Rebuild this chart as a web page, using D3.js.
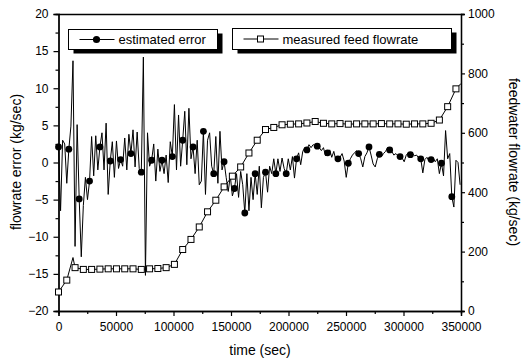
<!DOCTYPE html>
<html><head><meta charset="utf-8">
<script src="https://cdn.jsdelivr.net/npm/d3@7"></script>
<style>
body{margin:0;background:#fff;}
svg{display:block;font-family:"Liberation Sans",Arial,sans-serif;}
</style></head>
<body><svg id="c" width="522" height="362"></svg>
<script>
// estimated error, sampled every 1800 s starting at 0
const errStep = 1800;
const errorValues = [
 2.1,-6.5,3.0,2.5,-2.8,
 1.8,4.9,13.7,-11.3,5.1,
 -4.9,-12.7,-5.8,-2.0,-5.0,
 -2.5,3.5,-1.8,3.6,-1.0,
 2.1,4.0,-1.0,5.3,-4.3,
 0.2,2.8,-2.0,2.9,-0.8,
 0.4,-0.5,3.3,-1.0,3.8,
 1.2,4.4,-0.6,4.1,-0.8,
 -1.3,14.2,-15.2,4.0,-0.5,
 0.3,2.5,-2.5,1.8,-1.2,
 0.3,-1.5,1.0,-2.7,2.8,
 0.8,7.8,-1.0,6.4,-0.5,
 3.0,6.9,-0.3,7.3,0.5,
 2.1,-1.5,3.0,-3.0,-2.5,
 4.2,-4.3,3.0,4.0,-0.5,
 -1.5,3.5,-2.8,4.2,-1.0,
 0.1,-2.0,-3.9,-1.8,-4.5,
 -3.5,-1.5,-4.7,-1.2,-3.0,
 -6.8,-1.5,-6.5,-2.0,-5.0,
 -1.5,-4.3,-0.5,-6.1,-2.0,
 -1.3,-4.0,-0.5,-1.5,0.5,
 -1.5,0.5,-1.2,0.6,-0.8,
 -1.5,0.5,-1.0,0.8,-2.1,
 0.5,1.3,-0.3,1.5,2.0,
 1.7,2.4,2.0,2.4,2.3,
 2.2,2.0,1.6,2.0,0.9,
 1.3,1.7,0.7,1.5,0.3,
 0.5,0.7,1.2,0.2,-2.0,
 -0.1,0.5,1.0,1.3,1.6,
 1.2,0.5,-0.6,0.8,1.3,
 2.1,1.0,-0.2,-0.6,0.5,
 1.1,0.8,1.2,1.5,2.0,
 1.7,1.5,1.0,1.2,0.9,
 0.8,0.6,0.1,1.0,1.3,
 1.05,1.2,0.9,1.0,0.6,
 0.5,-1.4,0.4,0.7,0.2,
 0.4,0.6,0.1,0.5,-1.5,
 -0.1,-1.8,4.3,0.5,1.2,
 -4.6,-6.0,0.3,0.0,-3.0
];
const errMarkerEvery = 5;

// measured feed flowrate (kg/sec)
const flowTime = [0,7200,12600,14400,21600,28800,36000,43200,50400,57600,64800,72000,79200,86400,93600,100800,
 108000,115200,122400,129600,136800,144000,151200,158400,165600,172800,180000,187200,194400,201600,208800,
 216000,223200,230400,237600,244800,252000,259200,266400,273600,280800,288000,295200,302400,309600,316800,
 324000,331200,338400,345600,350000];
const flowRate = [64,104,180,146,140,140,141,142,142,142,142,140,142,143,146,157,
 207,241,283,334,373,418,454,485,532,575,611,618,627,629,630,
 633,638,632,630,631,629,630,630,630,631,630,630,629,630,630,
 632,643,688,748,766];
const flowMarkerStep = 7200;

const xTicks = [0,50000,100000,150000,200000,250000,300000,350000];
const yLeftTicks = [-20,-15,-10,-5,0,5,10,15,20];
const yRightTicks = [0,200,400,600,800,1000];

const legendLabels = ["estimated error","measured feed flowrate"];

const svg = d3.select("#c");
const x = d3.scaleLinear().domain([0,350000]).range([58.5,461]);
const yL = d3.scaleLinear().domain([-20,20]).range([311,14]);
const yR = d3.scaleLinear().domain([0,1000]).range([311,14]);

const errData = errorValues.map((v,i)=>({t:i*errStep,v:v,i:i}));
const flowData = flowTime.map((t,i)=>({t:t,v:flowRate[i]}));

function minorVals(ticks){const out=[];for(let i=0;i<ticks.length-1;i++)out.push((ticks[i]+ticks[i+1])/2);return out;}

// axes
const fontSize = 12;
const gL = svg.append("g").attr("transform","translate(58.5,0)")
  .call(d3.axisLeft(yL).tickValues(yLeftTicks).tickSize(5).tickPadding(5).tickFormat(d3.format("d")));
svg.append("g").attr("transform","translate(58.5,0)")
  .call(d3.axisLeft(yL).tickValues(minorVals(yLeftTicks)).tickSize(3).tickFormat(""));
const gR = svg.append("g").attr("transform","translate(461,0)")
  .call(d3.axisRight(yR).tickValues(yRightTicks).tickSize(4).tickPadding(3).tickFormat(d3.format("d")));
svg.append("g").attr("transform","translate(461,0)")
  .call(d3.axisRight(yR).tickValues(minorVals(yRightTicks)).tickSize(3).tickFormat(""));
const gB = svg.append("g").attr("transform","translate(0,311)")
  .call(d3.axisBottom(x).tickValues(xTicks).tickSize(5).tickPadding(6).tickFormat(d3.format("d")));
svg.append("g").attr("transform","translate(0,311)")
  .call(d3.axisBottom(x).tickValues(minorVals(xTicks)).tickSize(3).tickFormat(""));
svg.append("g").attr("transform","translate(0,14)")
  .call(d3.axisTop(x).tickValues([]).tickSize(0));
svg.selectAll(".domain").attr("stroke","#000").attr("stroke-width",1.3);
svg.selectAll(".tick line").attr("stroke","#000").attr("stroke-width",1.2);
svg.selectAll(".tick text").attr("font-size",fontSize).attr("font-family","'Liberation Sans',Arial,sans-serif").attr("fill","#000");

// flow line
svg.append("path").datum(flowData)
  .attr("fill","none").attr("stroke","#000").attr("stroke-width",1)
  .attr("d",d3.line().x(d=>x(d.t)).y(d=>yR(d.v)));
// error line
svg.append("path").datum(errData)
  .attr("fill","none").attr("stroke","#000").attr("stroke-width",1)
  .attr("d",d3.line().x(d=>x(d.t)).y(d=>yL(d.v)));
// flow markers
svg.append("g").selectAll("rect").data(flowData.filter(d=>d.t%flowMarkerStep===0))
  .join("rect").attr("x",d=>x(d.t)-3).attr("y",d=>yR(d.v)-3).attr("width",6).attr("height",6)
  .attr("fill","#fff").attr("stroke","#000").attr("stroke-width",1);
// error markers
svg.append("g").selectAll("circle").data(errData.filter(d=>d.i%errMarkerEvery===0))
  .join("circle").attr("cx",d=>x(d.t)).attr("cy",d=>yL(d.v)).attr("r",3.4).attr("fill","#000");

// legends
function legend(x0,y0,w,h,label,kind){
  const g = svg.append("g");
  g.append("rect").attr("x",x0+5).attr("y",y0+4).attr("width",w).attr("height",h).attr("fill","#000");
  g.append("rect").attr("x",x0).attr("y",y0).attr("width",w).attr("height",h).attr("fill","#fff").attr("stroke","#000").attr("stroke-width",1);
  const cy = y0+h/2;
  g.append("line").attr("x1",x0+11).attr("x2",x0+46).attr("y1",cy).attr("y2",cy).attr("stroke","#000").attr("stroke-width",1);
  if(kind==="circle") g.append("circle").attr("cx",x0+28).attr("cy",cy).attr("r",3.6).attr("fill","#000");
  else g.append("rect").attr("x",x0+25).attr("y",cy-3).attr("width",6).attr("height",6).attr("fill","#fff").attr("stroke","#000");
  g.append("text").attr("x",x0+50).attr("y",cy+4.5).attr("font-size",13).attr("fill","#000").text(label);
}
legend(68.5,29.5,149,20,legendLabels[0],"circle");
legend(232.5,28.5,219,21,legendLabels[1],"square");

// axis titles
svg.append("text").attr("transform","translate(21,162) rotate(-90)").attr("text-anchor","middle")
  .attr("font-size",14).text("flowrate error (kg/sec)");
svg.append("text").attr("transform","translate(509,162) rotate(90)").attr("text-anchor","middle")
  .attr("font-size",14).text("feedwater flowrate (kg/sec)");
svg.append("text").attr("x",260).attr("y",355).attr("text-anchor","middle")
  .attr("font-size",14).text("time (sec)");
</script></body></html>
